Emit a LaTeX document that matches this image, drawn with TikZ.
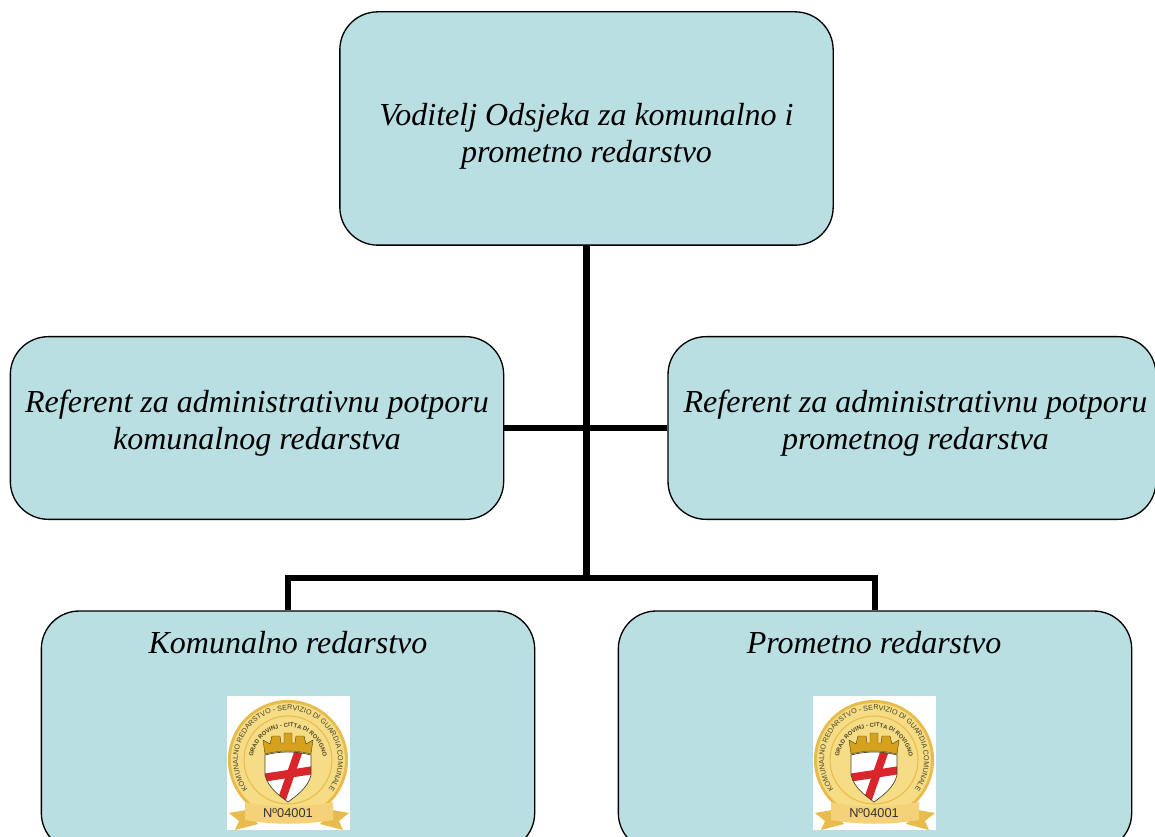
\documentclass[tikz,border=0pt]{standalone}
\usepackage{fontspec}
\setmainfont{Liberation Serif}
\setsansfont{Liberation Sans}
\usetikzlibrary{decorations.text}
\definecolor{boxfill}{HTML}{B9DFE3}
\definecolor{medal}{HTML}{F6DC84}
\definecolor{medaledge}{HTML}{E8BC4C}
\definecolor{ribbon}{HTML}{F5D27A}
\definecolor{crown}{HTML}{D6A21E}
\definecolor{cross}{HTML}{D8262C}
\definecolor{medaltext}{HTML}{4A4428}
\tikzset{
  medalpic/.pic={
    \begin{scope}[x=0.75pt,y=0.75pt]
      \fill[white] (-61,64) rectangle (62,-70);
      \fill[medaledge] (0,0) circle (60);
      \fill[medal] (0,0) circle (57);
      \draw[medaledge,line width=0.8pt] (0,0) circle (44);
      \path[decorate,decoration={text along path,text align={center},
        text={|\sffamily\fontsize{5.4}{5}\selectfont\color{medaltext}|KOMUNALNO REDARSTVO - SERVIZIO DI GUARDIA COMUNALE}}]
        (-39.9,-30.1) arc (217:-37:50);
      \path[decorate,decoration={text along path,text align={center},
        text={|\sffamily\bfseries\fontsize{4.4}{4}\selectfont\color{medaltext}|GRAD ROVINJ - CITTA DI ROVIGNO}}]
        (-35.5,-1.2) arc (178:2:35.5);
      % crown
      \fill[crown,draw=medaltext,line width=0.3pt] (-23,6) -- (-25,20) -- (-18,16) -- (-16,24) -- (-8,24) -- (-7,17)
        -- (-4,17) -- (-4,27) -- (4,27) -- (4,17) -- (7,17) -- (8,24) -- (16,24) -- (18,16) -- (25,20) -- (23,6)
        .. controls (8,10) and (-8,10) .. cycle;
      % shield
      \begin{scope}
        \clip (-23,5) .. controls (-8,9) and (8,9) .. (23,5) -- (23,-15) .. controls (20,-28) and (8,-36) .. (0,-42)
          .. controls (-8,-36) and (-20,-28) .. (-23,-15) -- cycle;
        \fill[white] (-25,10) rectangle (25,-44);
        \draw[cross,line width=6pt] (11,10) -- (-7,-42);
        \draw[cross,line width=6pt] (-26,-18) -- (26,-10);
      \end{scope}
      \draw[medaltext,line width=0.5pt] (-23,5) .. controls (-8,9) and (8,9) .. (23,5) -- (23,-15)
        .. controls (20,-28) and (8,-36) .. (0,-42) .. controls (-8,-36) and (-20,-28) .. (-23,-15) -- cycle;
      % ribbon
      \fill[medaledge] (-42,-50) -- (-59,-53) -- (-49,-61) -- (-53,-70) -- (-30,-64) -- cycle;
      \fill[medaledge] (44,-50) -- (61,-53) -- (51,-61) -- (55,-70) -- (32,-64) -- cycle;
      \fill[ribbon] (-43,-42) .. controls (-15,-48) and (15,-48) .. (45,-42) -- (45,-60)
        .. controls (15,-65) and (-15,-65) .. (-43,-60) -- cycle;
      \node[font=\sffamily\fontsize{9.6}{10}\selectfont,text=black!80,inner sep=0pt] (number) at (0,-53) {Nº04001};
    \end{scope}
  }
}
\begin{document}
\begin{tikzpicture}[x=0.75pt,y=-0.75pt,
    orgbox/.style ={draw, fill=boxfill, line width=1pt, rounded corners=28.5pt, inner sep=0pt},
    boxlabel/.style ={align=center, font=\itshape\fontsize{24}{28}\selectfont, inner sep=0pt},
    connector/.style ={line width=4.6pt}]
   \useasboundingbox (0,0) rectangle (1155,837);
   \clip (0,0) rectangle (1155,837);
   \fill[white] (0,0) rectangle (1155,837);

   \node[orgbox, minimum width=370pt, minimum height=175pt] (head) at (586.5,128.5) {};
   \node[orgbox, minimum width=370pt, minimum height=137pt] (refL) at (257,428) {};
   \node[orgbox, minimum width=366pt, minimum height=137pt] (refR) at (912,428) {};
   \node[orgbox, minimum width=370pt, minimum height=180pt] (kom) at (288,731) {};
   \node[orgbox, minimum width=385pt, minimum height=180pt] (prom) at (875,731) {};

   \node[boxlabel] (headtext) at (586.5,136) {Voditelj Odsjeka za komunalno i\\prometno redarstvo};
   \node[boxlabel] (refLtext) at (257,423) {Referent za administrativnu potporu\\komunalnog redarstva};
   \node[boxlabel] (refRtext) at (915.5,423) {Referent za administrativnu potporu\\prometnog redarstva};
   \node[boxlabel] (komtext) at (288,643) {Komunalno redarstvo};
   \node[boxlabel] (promtext) at (874,643) {Prometno redarstvo};

   \coordinate (fork) at (head.south |- 0,578);

   \draw[connector] (head.south) -- (fork);
   \draw[connector] (refL.east) -- (refR.west);
   \draw[connector] (kom.north) |- (fork) -| (prom.north);

   \pic (komlogo) at (288,760) {medalpic};
   \pic (promlogo) at (874,760) {medalpic};
 \end{tikzpicture}
\end{document}
